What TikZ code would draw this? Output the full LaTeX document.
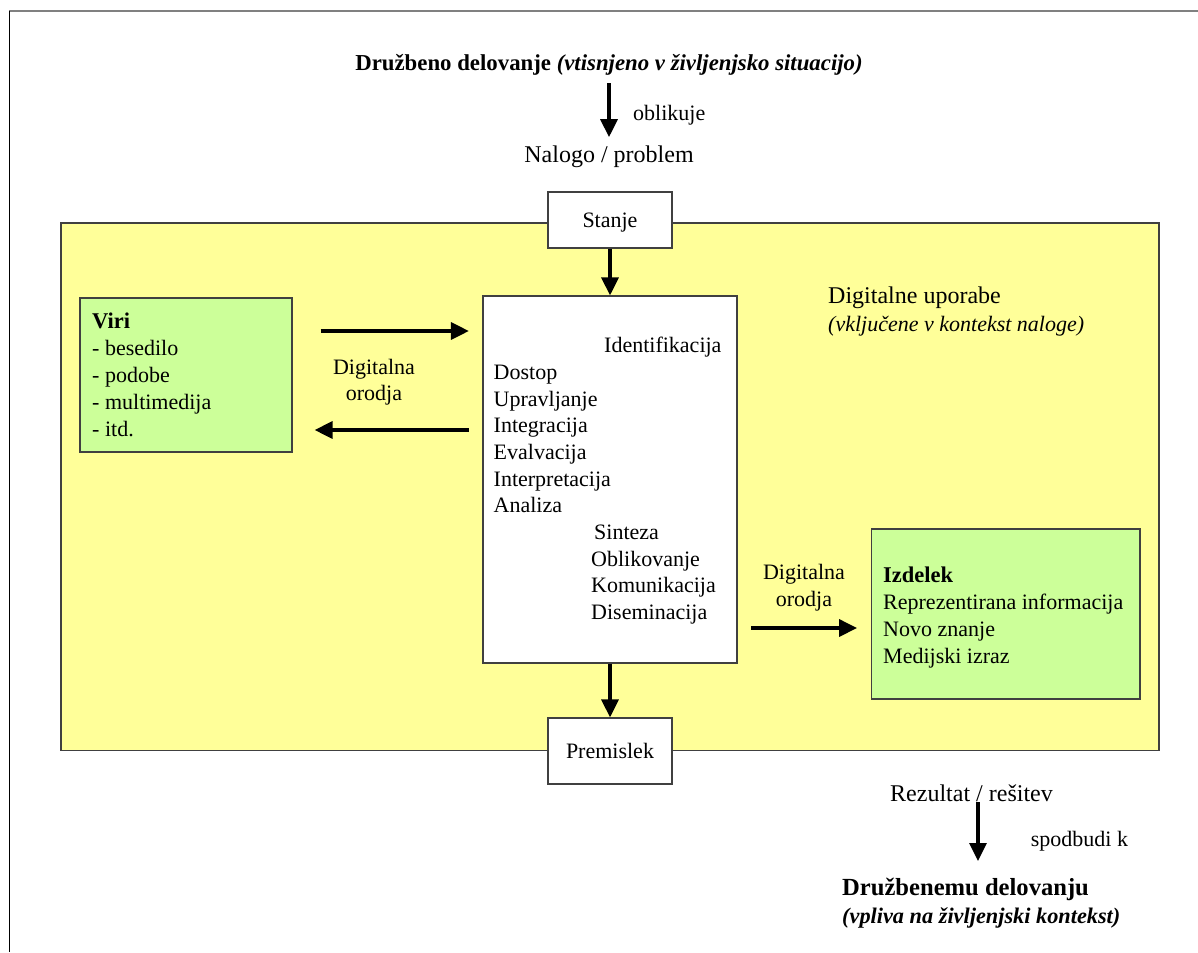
\documentclass[tikz,border=0pt]{standalone}
\usepackage{fontspec}
\setmainfont{Liberation Serif}
\usetikzlibrary{arrows.meta}
\definecolor{areayellow}{HTML}{FFFF99}
\definecolor{boxgreen}{HTML}{CCFF99}
\definecolor{edge}{HTML}{404040}
\tikzset{
  txt/.style={inner sep=0pt, anchor=base west, font=\fontsize{22}{26}\selectfont},
  ctxt/.style={inner sep=0pt, anchor=base, font=\fontsize{22}{26}\selectfont},
  big/.style={font=\fontsize{24}{28}\selectfont},
  box/.style={draw=edge, line width=1.2pt, inner sep=0pt},
  arr/.style={line width=3.2pt, -{Triangle[length=18pt,width=17pt]}},
}
\begin{document}
\begin{tikzpicture}[x=1pt,y=-1pt]
\useasboundingbox (0,0) rectangle (1198,952);
\fill[white] (0,0) rectangle (1198,952);
% outer frame (only top and left edges visible)
\draw[gray, line width=1.8pt] (9,11) -- (1198,11);
\draw[black, line width=1.8pt] (9.5,11) -- (9.5,952);

% yellow area
\node[box, fill=areayellow, minimum width=1098pt, minimum height=527.5pt] (area) at (610,486.75) {};

% top title
\node[ctxt, font=\fontsize{22.8}{26}\selectfont\bfseries] (title) at (609,71) {Družbeno delovanje \textit{(vtisnjeno v življenjsko situacijo)}};
\node[txt] (oblik) at (633,121) {oblikuje};
\node[ctxt, big] (nalogo) at (609,163) {Nalogo / problem};
\draw[arr, shorten <=7pt, shorten >=9pt] (title.south) -- (nalogo.north);

% Stanje / main / Premislek
\node[box, fill=white, minimum width=124pt, minimum height=56pt] (stanje) at (610,220) {};
\node[ctxt] (stanjet) at (610,227) {Stanje};
\node[box, fill=white, minimum width=254pt, minimum height=367pt] (main) at (610,479.5) {};
\node[box, fill=white, minimum width=124pt, minimum height=66pt] (prem) at (610,751) {};
\node[ctxt] (premt) at (610,758) {Premislek};
\draw[arr] (stanje.south) -- (main.north);
\draw[arr] (main.south) -- (prem.north);

% main box contents
\node[txt] (m1) at (604,352) {Identifikacija};
\node[txt] (m2) at (493.5,379.3) {Dostop};
\node[txt] (m3) at (493.5,406) {Upravljanje};
\node[txt] (m4) at (493.5,432.7) {Integracija};
\node[txt] (m5) at (493.5,459.4) {Evalvacija};
\node[txt] (m6) at (493.5,486.1) {Interpretacija};
\node[txt] (m7) at (493.5,512.8) {Analiza};
\node[txt] (m8) at (594,539.5) {Sinteza};
\node[txt] (m9) at (591,566.2) {Oblikovanje};
\node[txt] (m10) at (591,592.9) {Komunikacija};
\node[txt] (m11) at (591,619.6) {Diseminacija};

% Viri box
\node[box, fill=boxgreen, minimum width=212pt, minimum height=154pt] (viri) at (186,375) {};
\node[txt, font=\fontsize{22.5}{26}\selectfont\bfseries] (v1) at (92,328) {Viri};
\node[txt] (v2) at (92,355) {- besedilo};
\node[txt] (v3) at (92,382) {- podobe};
\node[txt] (v4) at (92,409) {- multimedija};
\node[txt] (v5) at (92,436) {- itd.};
\node[ctxt] (dl1) at (374,374) {Digitalna};
\node[ctxt] (dl2) at (374,400) {orodja};
\draw[arr] ([xshift=28pt,yshift=44pt]viri.east) -- ([xshift=-13.5pt,yshift=148.5pt]main.west);
\draw[arr] ([xshift=-13.5pt,yshift=49.5pt]main.west) -- ([xshift=22pt,yshift=-55pt]viri.east);

% Digitalne uporabe
\node[txt, big] (du1) at (828,303) {Digitalne uporabe};
\node[txt, font=\fontsize{22}{26}\selectfont\itshape] (du2) at (828,331.7) {(vključene v kontekst naloge)};

% Izdelek box
\node[box, fill=boxgreen, minimum width=268.5pt, minimum height=170pt] (izd) at (1005.75,614) {};
\node[txt, font=\fontsize{22.5}{26}\selectfont\bfseries] (i1) at (883,582) {Izdelek};
\node[txt] (i2) at (883,609) {Reprezentirana informacija};
\node[txt] (i3) at (883,636) {Novo znanje};
\node[txt] (i4) at (883,663) {Medijski izraz};
\node[ctxt] (dr1) at (804,579) {Digitalna};
\node[ctxt] (dr2) at (804,606) {orodja};
\draw[arr] ([xshift=13.7pt,yshift=-148.5pt]main.east) -- ([xshift=-13.8pt,yshift=-14pt]izd.west);

% bottom
\node[txt, big] (rez) at (890,801.7) {Rezultat / rešitev};
\node[txt] (spod) at (1030.7,846.7) {spodbudi k};
\node[txt, font=\fontsize{24.6}{28}\selectfont\bfseries] (drz) at (842,895) {Družbenemu delovanju};
\node[txt, font=\fontsize{22.3}{26}\selectfont\bfseries\itshape] (drz2) at (842,923) {(vpliva na življenjski kontekst)};
\coordinate (rezend) at (978,861);
\draw[arr] (rez.south -| rezend) -- (rezend);
\end{tikzpicture}
\end{document}
